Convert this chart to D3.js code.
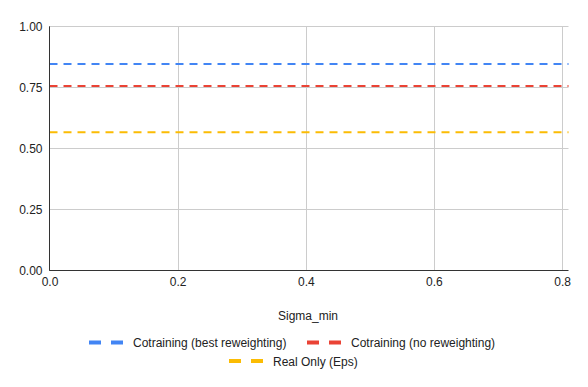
<!DOCTYPE html>
<html><head><meta charset="utf-8">
<script src="https://cdn.jsdelivr.net/npm/d3@7"></script>
<style>body{margin:0;background:#fff;}svg{display:block;font-family:"Liberation Sans",Arial,sans-serif;}</style>
</head><body>
<svg id="c" width="588" height="387"></svg>
<script>
const sigmaMin = [0, 0.81];
const seriesNames = ["Cotraining (best reweighting)", "Cotraining (no reweighting)", "Real Only (Eps)"];
const bestReweighting = [0.845, 0.845];
const noReweighting = [0.755, 0.755];
const realOnly = [0.566, 0.566];
const colors = ["#4285f4", "#ea4335", "#fbbc04"];
const xTicks = [0, 0.2, 0.4, 0.6, 0.8];
const yTicks = [0, 0.25, 0.5, 0.75, 1.0];

const svg = d3.select("#c");
const L = 49.5, R = 568.5, T = 26.3, B = 270.3;
const x = d3.scaleLinear().domain([0, 0.81]).range([L, R]);
const y = d3.scaleLinear().domain([0, 1]).range([B, T]);

// gridlines
svg.append("g").selectAll("line").data(yTicks.filter(d => d > 0)).join("line")
  .attr("x1", L).attr("x2", R).attr("y1", d => Math.round(y(d)) + 0.5).attr("y2", d => Math.round(y(d)) + 0.5)
  .attr("stroke", "#cccccc").attr("stroke-width", 1);
svg.append("g").selectAll("line").data(xTicks.filter(d => d > 0)).join("line")
  .attr("y1", T).attr("y2", B).attr("x1", d => Math.round(x(d)) + 0.5).attr("x2", d => Math.round(x(d)) + 0.5)
  .attr("stroke", "#cccccc").attr("stroke-width", 1);

// series
const series = [bestReweighting, noReweighting, realOnly];
const line = d3.line().x((d, i) => x(sigmaMin[i])).y(d => y(d));
series.forEach((s, k) => {
  svg.append("path").datum(s).attr("d", line).attr("fill", "none")
    .attr("stroke", colors[k]).attr("stroke-width", 2).attr("stroke-dasharray", "8,6");
});

// axes lines
svg.append("line").attr("x1", L).attr("x2", L).attr("y1", T).attr("y2", B + 0.5).attr("stroke", "#333").attr("stroke-width", 1);
svg.append("line").attr("x1", L).attr("x2", R).attr("y1", Math.round(B) + 0.5).attr("y2", Math.round(B) + 0.5).attr("stroke", "#333").attr("stroke-width", 1);

// tick labels
const yAxis = d3.axisLeft(y).tickValues(yTicks).tickFormat(d3.format(".2f")).tickSize(0).tickPadding(7);
const gy = svg.append("g").attr("transform", `translate(${L},0)`).call(yAxis);
gy.select(".domain").remove();
gy.selectAll("text").attr("font-size", 12).attr("fill", "#222").attr("font-family", "Liberation Sans, Arial, sans-serif");

const xAxis = d3.axisBottom(x).tickValues(xTicks).tickFormat(d3.format(".1f")).tickSize(0).tickPadding(7);
const gx = svg.append("g").attr("transform", `translate(0,${B})`).call(xAxis);
gx.select(".domain").remove();
gx.selectAll("text").attr("font-size", 12).attr("fill", "#222").attr("font-family", "Liberation Sans, Arial, sans-serif");

// axis title
svg.append("text").attr("x", 308).attr("y", 320).attr("text-anchor", "middle")
  .attr("font-size", 12).attr("fill", "#222").text("Sigma_min");

// legend
const legendItems = [
  {i: 0, lx: 89, ly: 342.5},
  {i: 1, lx: 307, ly: 342.5},
  {i: 2, lx: 229, ly: 361}
];
legendItems.forEach(it => {
  const g = svg.append("g");
  g.append("line").attr("x1", it.lx).attr("x2", it.lx + 35).attr("y1", it.ly).attr("y2", it.ly)
    .attr("stroke", colors[it.i]).attr("stroke-width", 4).attr("stroke-dasharray", "12,10");
  g.append("text").attr("x", it.lx + 44).attr("y", it.ly + 4.5).attr("font-size", 12).attr("fill", "#222")
    .text(seriesNames[it.i]);
});
</script>
</body></html>
